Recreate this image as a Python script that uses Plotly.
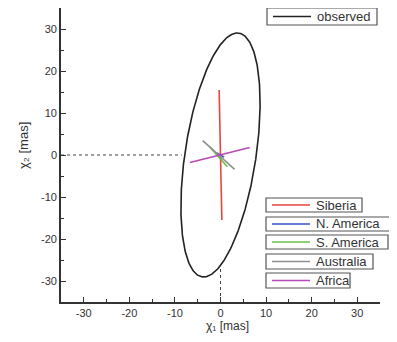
import numpy as np
import plotly.graph_objects as go

# ---- data ----
regions = ["Siberia", "N. America", "S. America", "Australia", "Africa"]
region_colors = ["#e8453c", "#3a4fc4", "#6cbf4a", "#8f8f8f", "#b54ab8"]
# segment endpoints (x1, y1, x2, y2) in mas
seg_x1 = [-0.3, -0.8, -2.4, -3.9, -6.7]
seg_y1 = [15.5, 0.5, 2.0, 3.4, -1.8]
seg_x2 = [0.3, 0.8, 1.5, 3.1, 6.4]
seg_y2 = [-15.5, -0.5, -2.8, -3.4, 1.8]

# observed error ellipse
ell_semi_major = 29.3
ell_semi_minor = 7.8
ell_tilt_deg = 7.8  # clockwise from vertical

# dotted guide lines
hguide_x = [-35, -8.5]
hguide_y = [0, 0]
vguide_x = [0, 0]
vguide_y = [-35, -26.8]

ticks = [-30, -20, -10, 0, 10, 20, 30]
tick_labels = ["-30", "-20", "-10", "0", "10", "20", "30"]
minor_ticks = [-35, -25, -15, -5, 5, 15, 25, 35]

# ---- figure geometry (page has an 8px body margin) ----
OFF = 8
W, H = 397 - 2 * OFF, 342 - 2 * OFF
PL, PR, PT, PB = 61, 380, 8, 302  # plot area in window pixels
ML, MR, MT, MB = PL - OFF, W - (PR - OFF), PT - OFF, H - (PB - OFF)
PW, PH = W - ML - MR, H - MT - MB
FONT = "Liberation Sans, Arial"


def px_x(p):
    return (p - PL) / PW


def px_y(p):
    return (PB - p) / PH


fig = go.Figure()

t = np.linspace(0, 2 * np.pi, 361)
th = np.deg2rad(ell_tilt_deg)
ux = ell_semi_minor * np.cos(t)
uy = ell_semi_major * np.sin(t)
ex = ux * np.cos(th) + uy * np.sin(th)
ey = -ux * np.sin(th) + uy * np.cos(th)

for gx, gy in ((hguide_x, hguide_y), (vguide_x, vguide_y)):
    fig.add_trace(go.Scatter(x=gx, y=gy, mode="lines",
                             line=dict(color="#444", width=1, dash="dot"),
                             showlegend=False, hoverinfo="skip"))

fig.add_trace(go.Scatter(x=ex, y=ey, mode="lines", name="observed",
                         line=dict(color="#222", width=1.6), showlegend=False))

for i, name in enumerate(regions):
    fig.add_trace(go.Scatter(x=[seg_x1[i], seg_x2[i]], y=[seg_y1[i], seg_y2[i]],
                             mode="lines", name=name,
                             line=dict(color=region_colors[i], width=1.6),
                             showlegend=False))

# ---- manual legend boxes (each entry has its own frame) ----
leg_names = ["observed"] + regions
leg_colors = ["#222"] + region_colors
box_left = [267, 266, 266, 266, 266, 266]
box_right = [377, 362, 390, 388, 373, 350]
box_top = [8, 198, 217, 235, 254, 273]
box_bot = [25, 212, 231, 249, 269, 288]

shapes = []
annotations = []
for i, name in enumerate(leg_names):
    shapes.append(dict(type="rect", xref="paper", yref="paper",
                       x0=px_x(box_left[i]), x1=px_x(box_right[i]),
                       y0=px_y(box_bot[i]), y1=px_y(box_top[i]),
                       line=dict(color="#555", width=1.2), fillcolor="white", layer="above"))
    yc = px_y((box_top[i] + box_bot[i]) / 2)
    shapes.append(dict(type="line", xref="paper", yref="paper",
                       x0=px_x(box_left[i] + 6), x1=px_x(box_left[i] + 44),
                       y0=yc, y1=yc, line=dict(color=leg_colors[i], width=1.4), layer="above"))
    annotations.append(dict(xref="paper", yref="paper", x=px_x(box_left[i] + 48), y=yc,
                            xanchor="left", yanchor="middle", showarrow=False,
                            text=name, font=dict(family=FONT, size=13, color="#333")))

# axis titles
annotations.append(dict(xref="paper", yref="paper", x=px_x(227), y=px_y(334),
                        xanchor="center", yanchor="bottom", showarrow=False, borderpad=0,
                        text="χ₁ [mas]", font=dict(family=FONT, size=12, color="#333")))
annotations.append(dict(xref="paper", yref="paper", x=px_x(23), y=px_y(146),
                        xanchor="center", yanchor="middle", showarrow=False, textangle=-90,
                        borderpad=0,
                        text="χ₂ [mas]", font=dict(family=FONT, size=13, color="#333")))

axis_common = dict(range=[-35, 35], tickvals=ticks, ticktext=tick_labels,
                   ticks="inside", ticklen=5,
                   tickwidth=1.3, tickcolor="#333", showline=True, linecolor="#333",
                   linewidth=1.6, showgrid=False, zeroline=False, automargin=False,
                   minor=dict(ticks="inside", ticklen=3, tickwidth=1.1, tickcolor="#333",
                              tickvals=minor_ticks),
                   tickfont=dict(family=FONT, size=11, color="#333"))

fig.update_layout(
    width=W, height=H,
    margin=dict(l=ML, r=MR, t=MT, b=MB, pad=0),
    paper_bgcolor="white", plot_bgcolor="white",
    showlegend=False,
    xaxis=dict(**axis_common),
    yaxis=dict(**axis_common),
    shapes=shapes, annotations=annotations,
)

fig.write_html("out.html")
